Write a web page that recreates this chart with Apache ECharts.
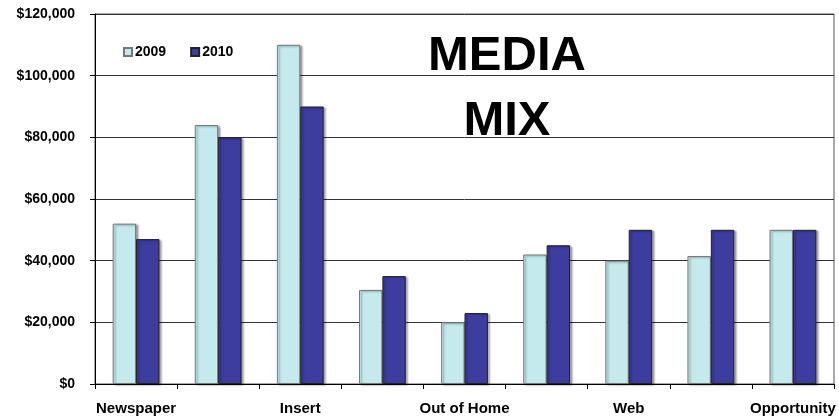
<!DOCTYPE html>
<html>
<head>
<meta charset="utf-8">
<script src="https://cdn.jsdelivr.net/npm/echarts@6/dist/echarts.min.js"></script>
<style>html,body{margin:0;padding:0;background:#fff}#c{width:839px;height:418px}</style>
</head>
<body>
<div id="c"></div>
<script>
var categories = ["Newspaper", "Direct Mail", "Insert", "Radio", "Out of Home", "TV", "Web", "Magazine", "Opportunity"];
var values2009 = [52000, 84000, 110000, 30500, 20000, 42000, 40000, 41500, 50000];
var values2010 = [47000, 80000, 90000, 35000, 23000, 45000, 50000, 50000, 50000];
var seriesNames = ["2009", "2010"];
var yTicks = {min: 0, max: 120000, interval: 20000};
var titleLines = ["MEDIA", "MIX"];

var chart = echarts.init(document.getElementById('c'), null, {renderer: 'canvas'});
var font = '"Liberation Sans", Arial, sans-serif';
chart.setOption({
  animation: false,
  backgroundColor: '#fff',
  grid: {left: 95, right: 5, top: 14, bottom: 34, show: true, borderColor: '#555', borderWidth: 1},
  legend: {
    left: 118, top: 40, itemWidth: 8, itemHeight: 8, itemGap: 24,
    icon: 'rect',
    textStyle: {fontFamily: font, fontWeight: 'bold', fontSize: 14, color: '#000', padding: [0, 0, 0, -2]},
    data: seriesNames
  },
  xAxis: {
    type: 'category', data: categories,
    axisLine: {lineStyle: {color: '#000', width: 1}},
    axisTick: {show: true, length: 5, interval: 0, lineStyle: {color: '#000'}},
    axisLabel: {interval: 1, margin: 17, fontFamily: font, fontWeight: 'bold', fontSize: 15, color: '#000'}
  },
  yAxis: {
    type: 'value', min: yTicks.min, max: yTicks.max, interval: yTicks.interval,
    axisLine: {show: true, lineStyle: {color: '#000'}},
    axisTick: {show: true, length: 5, lineStyle: {color: '#000'}},
    splitLine: {lineStyle: {color: '#333', width: 1}},
    axisLabel: {
      margin: 20, fontFamily: font, fontWeight: 'bold', fontSize: 14, color: '#000',
      formatter: function (v) { return '$' + v.toLocaleString('en-US'); }
    }
  },
  graphic: [
    {type: 'text', x: 507, y: 32, style: {text: titleLines[0], font: 'bold 49px ' + font, fill: '#000', align: 'center', verticalAlign: 'top'}, z: 100},
    {type: 'text', x: 507, y: 97, style: {text: titleLines[1], font: 'bold 49px ' + font, fill: '#000', align: 'center', verticalAlign: 'top'}, z: 100}
  ],
  series: [
    {
      name: seriesNames[0], type: 'bar', data: values2009, barGap: '0%', barCategoryGap: '43%',
      itemStyle: {color: '#C5EAEE', borderColor: '#777', borderWidth: 1,
        shadowColor: 'rgba(0,0,0,0.35)', shadowBlur: 2, shadowOffsetX: 2, shadowOffsetY: 1}
    },
    {
      name: seriesNames[1], type: 'bar', data: values2010, barGap: '0%', barCategoryGap: '43%',
      itemStyle: {color: '#3D3DA0', borderColor: '#222', borderWidth: 1,
        shadowColor: 'rgba(0,0,0,0.35)', shadowBlur: 2, shadowOffsetX: 2, shadowOffsetY: 1}
    }
  ]
});
</script>
</body>
</html>
